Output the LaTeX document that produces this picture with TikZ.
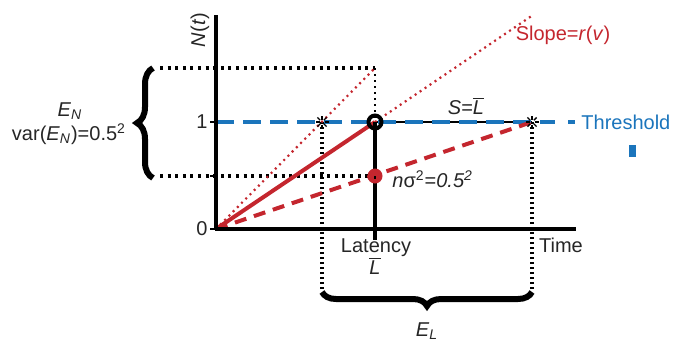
\documentclass[tikz,border=0pt]{standalone}
\usepackage{fontspec}
\setmainfont{Liberation Sans}
\usetikzlibrary{decorations.pathreplacing}
\definecolor{cRed}{HTML}{C4262E}
\definecolor{cBlue}{HTML}{1B75BC}
\definecolor{cInk}{HTML}{262626}
\newcommand{\Lbar}{\ensuremath{\overline{\mbox{\textit{L}}}}}
\tikzset{
  axis/.style  ={line width=2pt,black},
  dotln/.style ={line width=2pt,dash pattern=on 1.5pt off 2.3pt,black},
  vdotln/.style={line width=2.4pt,dash pattern=on 1pt off 1.5pt,black},
  rdotln/.style={line width=1.1pt,dash pattern=on 1pt off 2pt,cRed},
  thr/.style   ={line width=1.8pt,dash pattern=on 9pt off 4.5pt,cBlue},
  lbl/.style   ={font=\fontsize{10}{12}\selectfont,text=cInk,inner sep=1pt},
  brc/.style   ={decorate,decoration={brace,amplitude=#1},line width=3pt},
}
\begin{document}
\begin{tikzpicture}[x=0.5pt,y=-0.5pt]
\useasboundingbox (0,0) rectangle (679,343);
% key points
\coordinate (O) at (216,229);
\coordinate (Ytop) at (216,15);
\coordinate (Xend) at (576,229);
\coordinate (P) at (375,122);
\coordinate (Q) at (375,176);
\coordinate (R) at (375,68);
\coordinate (A) at (322,122);
\coordinate (B) at (532,122);
\coordinate (Pd) at (375,240);
\coordinate (S) at (533,15);
\coordinate (Tend) at (555,122);
\coordinate (Y1) at (216,122);
\coordinate (Yq) at (216,176);
\coordinate (Lr) at (160,68);
\coordinate (Lq) at (160,176);
\coordinate (Ab) at (322,292);
\coordinate (Bb) at (532,292);
% dotted guides
\draw[dotln] (Lr) -- (R);
\draw[dotln] (Lq) -- (Q);
\draw[line width=1.2pt,dash pattern=on 1pt off 2pt] (R) -- (P);
\draw[vdotln] (A) -- (Ab);
\draw[vdotln] (B) -- (Bb);
% S line and threshold
\draw[line width=0.8pt] (P) -- (B);
\draw[thr] (Y1) -- (Tend);
\draw[line width=1.8pt,cBlue] (568,122) -- (575,122);
\fill[cBlue] (629,145) rectangle (636,157);
% red lines
\draw[rdotln] (O) -- (R);
\draw[rdotln] (P) -- (S);
\draw[line width=2pt,cRed,dash pattern=on 6pt off 4pt] (O) -- (B);
\draw[line width=2pt,cRed] (O) -- (P);
% axes
\draw[axis] (Ytop) -- (216,230);
\draw[axis] (215,229) -- (Xend);
\draw[axis] (P) -- (Pd);
\foreach \t in {Y1,Yq,O} \draw[line width=0.8pt] (\t) -- ++(-6,0);
% markers
\fill[cRed] (Q) circle (7.5);
\draw[line width=0.8pt] (Q) -- ++(0,3);
\draw[line width=2pt] (P) circle (6.5);
\foreach \c in {A,B}
  \foreach \a in {0,45,...,315}
    \draw[line width=0.7pt] (\c) ++(\a:2.5) -- ++(\a:4);
% braces
\draw[brc=8pt] (153,178) -- (153,68);
\draw[brc=7pt] (Bb) -- (Ab);
% labels
\node[lbl,rotate=90] (Nt) at (200,30) {\textit{N}(\textit{t})};
\node[lbl,anchor=east] (n0) at (210,229) {0};
\node[lbl,anchor=east] (n1) at (210,122) {1};
\node[lbl] (EN) at (70,111) {\textit{E}\textsubscript{\textit{N}}};
\node[lbl] (varEN) at (69,134) {var(\textit{E}\textsubscript{\textit{N}})=0.5\textsuperscript{2}};
\node[lbl,text=cRed] (slope) at (563,35) {Slope=\textit{r}(\textit{v})};
\node[lbl] (SL) at (466,106) {\textit{S}=\Lbar};
\node[lbl,anchor=west] (ns) at (390,179) {\textit{n}σ\textsuperscript{2}=\textit{0.5}\textsuperscript{\textit{2}}};
\node[lbl] (lat) at (376,248) {Latency};
\node[lbl] (lb) at (375,266) {\Lbar};
\node[lbl] (time) at (561,245) {Time};
\node[lbl] (EL) at (427,331) {\textit{E}\textsubscript{\textit{L}}};
\node[lbl,anchor=west,text=cBlue] (thrl) at (579,122) {Threshold};
\end{tikzpicture}
\end{document}
